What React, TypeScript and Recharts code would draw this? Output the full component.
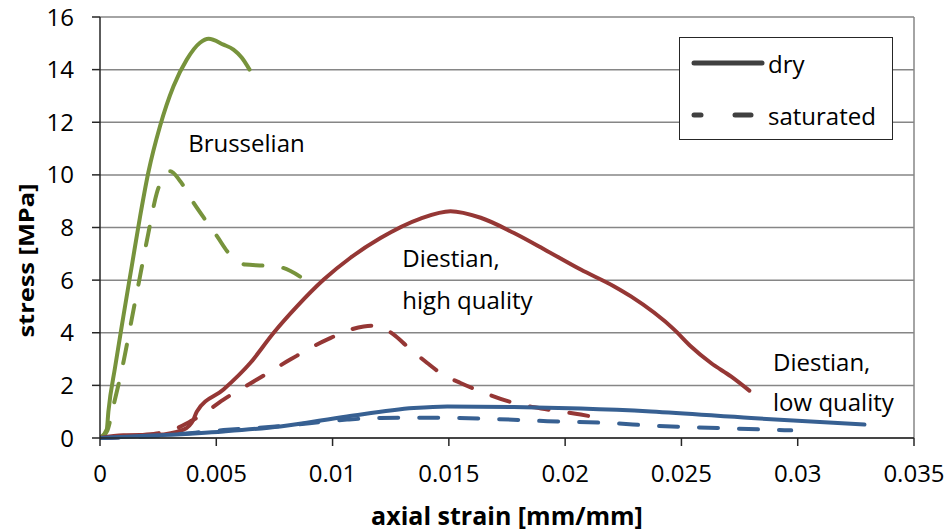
import React from 'react';
import {
  LineChart,
  Line,
  XAxis,
  YAxis,
  CartesianGrid,
  Legend,
  ReferenceLine,
  ReferenceDot,
  Label,
} from 'recharts';

type P = [number, number];

const xTicks = [0, 0.005, 0.01, 0.015, 0.02, 0.025, 0.03, 0.035];
const yTicks = [0, 2, 4, 6, 8, 10, 12, 14, 16];

const brusselianDry: P[] = [
  [0, 0], [0.00029, 0.32], [0.00036, 1.0], [0.00065, 2.7], [0.001, 4.6], [0.00136, 6.5],
  [0.00172, 8.4], [0.00208, 10.1], [0.00258, 11.85], [0.00316, 13.37], [0.00373, 14.38],
  [0.0043, 15.02], [0.00467, 15.17], [0.00531, 14.95], [0.00574, 14.76], [0.0061, 14.45],
  [0.00643, 14.0],
];

const brusselianSat: P[] = [
  [0, 0], [0.0003, 0.25], [0.00057, 1.2], [0.001, 2.85], [0.00136, 4.5], [0.00172, 6.14],
  [0.00208, 7.79], [0.00244, 9.3], [0.00275, 9.95], [0.00302, 10.14], [0.00345, 9.76],
  [0.00402, 8.94], [0.00452, 8.3], [0.00503, 7.67], [0.00553, 7.03], [0.00625, 6.59],
  [0.00703, 6.55], [0.0078, 6.48], [0.00869, 6.08],
];

const diestianHighDry: P[] = [
  [0, 0], [0.001, 0.1], [0.00244, 0.12], [0.00359, 0.32], [0.00402, 0.7], [0.00416, 1.0],
  [0.00531, 1.84], [0.00646, 2.85], [0.00746, 3.99], [0.00847, 5.0], [0.00962, 6.02],
  [0.01077, 6.85], [0.01206, 7.6], [0.01378, 8.34], [0.01507, 8.62], [0.01637, 8.37],
  [0.0178, 7.79], [0.01924, 7.1], [0.02067, 6.4], [0.02211, 5.76], [0.02283, 5.38],
  [0.02469, 4.12], [0.02541, 3.48], [0.02627, 2.85], [0.02713, 2.34], [0.02792, 1.8],
];

const diestianHighSat: P[] = [
  [0, 0], [0.00172, 0.1], [0.00316, 0.32], [0.00388, 0.63], [0.00416, 0.76], [0.00531, 1.46],
  [0.00675, 2.22], [0.00818, 2.98], [0.00976, 3.74], [0.01134, 4.24], [0.01177, 4.27],
  [0.01263, 3.93], [0.01321, 3.48], [0.01407, 2.85], [0.01464, 2.47], [0.0155, 2.09],
  [0.01637, 1.77], [0.0178, 1.33], [0.01924, 1.08], [0.02067, 0.89], [0.02125, 0.8],
];

const diestianLowDry: P[] = [
  [0, 0], [0.00244, 0.1], [0.00531, 0.25], [0.00775, 0.44], [0.01062, 0.82], [0.01349, 1.14],
  [0.01493, 1.2], [0.0178, 1.18], [0.02067, 1.12], [0.02369, 1.01], [0.028, 0.76],
  [0.03287, 0.51],
];

const diestianLowSat: P[] = [
  [0, 0], [0.00244, 0.08], [0.00531, 0.3], [0.00775, 0.45], [0.01062, 0.7], [0.01206, 0.76],
  [0.01421, 0.77], [0.01637, 0.74], [0.01924, 0.64], [0.02211, 0.56], [0.02369, 0.47],
  [0.02656, 0.38], [0.02972, 0.29],
];

const annotations: { x: number; y: number; text: string }[] = [
  { x: 0.00379, y: 11.23, text: 'Brusselian' },
  { x: 0.013, y: 6.86, text: 'Diestian,' },
  { x: 0.013, y: 5.26, text: 'high quality' },
  { x: 0.02894, y: 2.9, text: 'Diestian,' },
  { x: 0.02894, y: 1.38, text: 'low quality' },
];

const GREEN = '#77933C';
const RED = '#953735';
const BLUE = '#376092';
const FONT = '"Open Sans", sans-serif';

const toData = (pts: P[]) => pts.map(([x, y]) => ({ x, y }));

const series = [
  { key: 'bd', pts: brusselianDry, color: GREEN, dashed: false },
  { key: 'bs', pts: brusselianSat, color: GREEN, dashed: true },
  { key: 'hd', pts: diestianHighDry, color: RED, dashed: false },
  { key: 'hs', pts: diestianHighSat, color: RED, dashed: true },
  { key: 'ld', pts: diestianLowDry, color: BLUE, dashed: false },
  { key: 'ls', pts: diestianLowSat, color: BLUE, dashed: true },
];

const LegendBox = () => (
  <div
    style={{
      width: 212,
      height: 101,
      border: '1px solid #262626',
      background: '#fff',
      position: 'relative',
      fontFamily: FONT,
      fontSize: 24,
      color: '#000',
    }}
  >
    <svg width={212} height={101} style={{ position: 'absolute', left: 0, top: 0 }}>
      <line x1={14} y1={25} x2={82} y2={25} stroke="#404040" strokeWidth={5} strokeLinecap="round" />
      <line x1={14} y1={77} x2={21} y2={77} stroke="#404040" strokeWidth={5} strokeLinecap="round" />
      <line x1={55} y1={77} x2={71} y2={77} stroke="#404040" strokeWidth={5} strokeLinecap="round" />
      <text x={88} y={25} dominantBaseline="central" fontFamily={FONT} fontSize={24} fill="#000">dry</text>
      <text x={88} y={77} dominantBaseline="central" fontFamily={FONT} fontSize={24} fill="#000">saturated</text>
    </svg>
  </div>
);

const AnnotationLabel = (props: any) => {
  const { viewBox, value } = props;
  return (
    <text
      x={viewBox.x}
      y={viewBox.y}
      dominantBaseline="central"
      fontFamily={FONT}
      fontSize={24}
      fill="#000"
    >
      {value}
    </text>
  );
};

export default function App() {
  return (
    <div style={{ position: 'absolute', left: 0, top: 0, background: '#fff' }}>
      <LineChart
        width={948}
        height={531}
        margin={{ top: 17, right: 34, bottom: 3, left: 0 }}
      >
        <CartesianGrid vertical={false} stroke="#868686" strokeWidth={1.5} />
        <XAxis
          dataKey="x"
          type="number"
          domain={[0, 0.035]}
          ticks={xTicks}
          allowDataOverflow
          height={90}
          stroke="#262626"
          strokeWidth={1.5}
          tickSize={8}
          tickMargin={19}
          tick={{ fill: '#000', fontFamily: FONT, fontSize: 24 }}
          tickFormatter={(v: number) => String(v)}
        >
          <Label
            content={(p: any) => {
              const vb = p.viewBox;
              return (
                <text
                  x={vb.x + vb.width / 2}
                  y={vb.y + 77}
                  textAnchor="middle"
                  dominantBaseline="central"
                  fontFamily={FONT}
                  fontWeight="bold"
                  fontSize={25}
                  fill="#000"
                >
                  axial strain [mm/mm]
                </text>
              );
            }}
          />
        </XAxis>
        <YAxis
          type="number"
          domain={[0, 16]}
          ticks={yTicks}
          width={100}
          stroke="#262626"
          strokeWidth={1.5}
          tickSize={8}
          tickMargin={18}
          tick={{ fill: '#000', fontFamily: FONT, fontSize: 24 }}
        >
          <Label
            content={(p: any) => {
              const vb = p.viewBox;
              const cx = vb.x + 25;
              const cy = vb.y + vb.height / 2 + 33;
              return (
                <text
                  x={cx}
                  y={cy}
                  textAnchor="middle"
                  dominantBaseline="central"
                  transform={`rotate(-90 ${cx} ${cy})`}
                  fontFamily={FONT}
                  fontWeight="bold"
                  fontSize={22}
                  textLength={154}
                  lengthAdjust="spacingAndGlyphs"
                  fill="#000"
                >
                  stress [MPa]
                </text>
              );
            }}
          />
        </YAxis>
        <ReferenceLine x={0.035} stroke="#868686" strokeWidth={1.5} />
        {series.map((s) => (
          <Line
            key={s.key}
            data={toData(s.pts)}
            dataKey="y"
            type="monotone"
            stroke={s.color}
            strokeWidth={4}
            strokeDasharray={s.dashed ? '19 21' : undefined}
            strokeLinecap="round"
            strokeLinejoin="round"
            dot={false}
            activeDot={false}
            legendType="none"
            isAnimationActive={false}
          />
        ))}
        {annotations.map((a, i) => (
          <ReferenceDot
            key={i}
            x={a.x}
            y={a.y}
            r={0}
            fill="none"
            stroke="none"
            label={<AnnotationLabel value={a.text} />}
          />
        ))}
        <Legend
          layout="vertical"
          align="center"
          verticalAlign="middle"
          wrapperStyle={{ left: 679, top: 37, width: 214, height: 103 }}
          content={() => <LegendBox />}
        />
      </LineChart>
    </div>
  );
}
